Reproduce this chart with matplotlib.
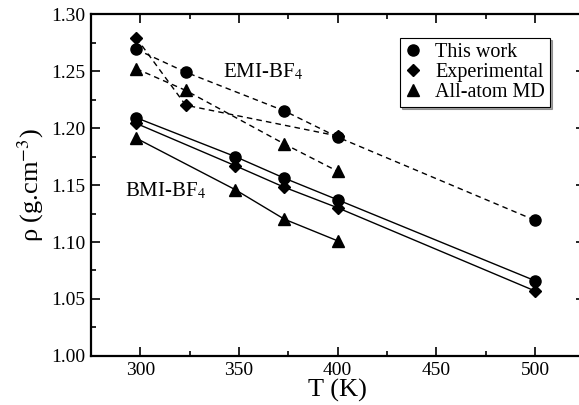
import matplotlib
matplotlib.use("Agg")
from matplotlib import pyplot as plt
from matplotlib.ticker import MultipleLocator, FormatStrFormatter

plt.rcParams['font.family'] = ['Liberation Serif', 'DejaVu Serif']
plt.rcParams['mathtext.fontset'] = 'stix'

# EMI-BF4 densities (g/cm3)
emi_T_work = [298, 323, 373, 400, 500]
emi_rho_work = [1.269, 1.249, 1.215, 1.192, 1.119]
emi_T_exp = [298, 323, 400]
emi_rho_exp = [1.279, 1.220, 1.193]
emi_T_md = [298, 323, 373, 400]
emi_rho_md = [1.252, 1.233, 1.186, 1.162]

# BMI-BF4 densities (g/cm3)
bmi_T_work = [298, 348, 373, 400, 500]
bmi_rho_work = [1.209, 1.175, 1.156, 1.137, 1.066]
bmi_T_exp = [298, 348, 373, 400, 500]
bmi_rho_exp = [1.204, 1.167, 1.148, 1.130, 1.057]
bmi_T_md = [298, 348, 373, 400]
bmi_rho_md = [1.191, 1.146, 1.120, 1.101]

fig = plt.figure(figsize=(5.79, 4.05), dpi=100)
ax = fig.add_axes([0.157, 0.121, 0.8525, 0.8444])

mk = dict(color='black', lw=1.0, markersize=8)
ax.plot(emi_T_exp, emi_rho_exp, 'D--', dashes=(4, 3), **dict(mk, markersize=6))
ax.plot(emi_T_md, emi_rho_md, '^--', dashes=(4, 3), **mk)
ax.plot(emi_T_work, emi_rho_work, 'o--', dashes=(4, 3), **mk)

ax.plot(bmi_T_exp, bmi_rho_exp, 'D-', label='Experimental', **dict(mk, markersize=6))
ax.plot(bmi_T_md, bmi_rho_md, '^-', label='All-atom MD', **mk)
ax.plot(bmi_T_work, bmi_rho_work, 'o-', label='This work', **mk)

ax.text(342, 1.249, 'EMI-BF$_4$', fontsize=15, va='center')
ax.text(292.4, 1.1447, 'BMI-BF$_4$', fontsize=15, va='center')

ax.set_xlim(275, 525)
ax.set_ylim(1.00, 1.30)
ax.xaxis.set_major_locator(MultipleLocator(50))
ax.xaxis.set_minor_locator(MultipleLocator(25))
ax.yaxis.set_major_locator(MultipleLocator(0.05))
ax.yaxis.set_minor_locator(MultipleLocator(0.025))
ax.yaxis.set_major_formatter(FormatStrFormatter('%.2f'))
ax.tick_params(which='both', direction='in', top=True, right=True, width=1.2, labelsize=14)
ax.tick_params(which='major', length=6.5, pad=4)
ax.tick_params(which='minor', length=3.5)
for s in ax.spines.values():
    s.set_linewidth(1.6)

ax.set_xlabel('T (K)', fontsize=19, labelpad=0)
ax.set_ylabel('ρ (g.cm$^{\\mathrm{-3}}$)', fontsize=19, labelpad=4)

h, l = ax.get_legend_handles_labels()
order = [2, 0, 1]
leg = ax.legend([h[i] for i in order], [l[i] for i in order], loc='upper left',
                bbox_to_anchor=(0.626, 0.93), borderaxespad=0, fontsize=14.5,
                frameon=True, fancybox=False, shadow={'ox': 1.2, 'oy': -1.2},
                handlelength=0.8, handletextpad=0.7, borderpad=0.25, labelspacing=0.05)
for lh in leg.legend_handles:
    lh.set_linestyle('none')
leg.get_frame().set_edgecolor('black')
leg.get_frame().set_linewidth(0.8)

fig.savefig('out.png', dpi=100)
